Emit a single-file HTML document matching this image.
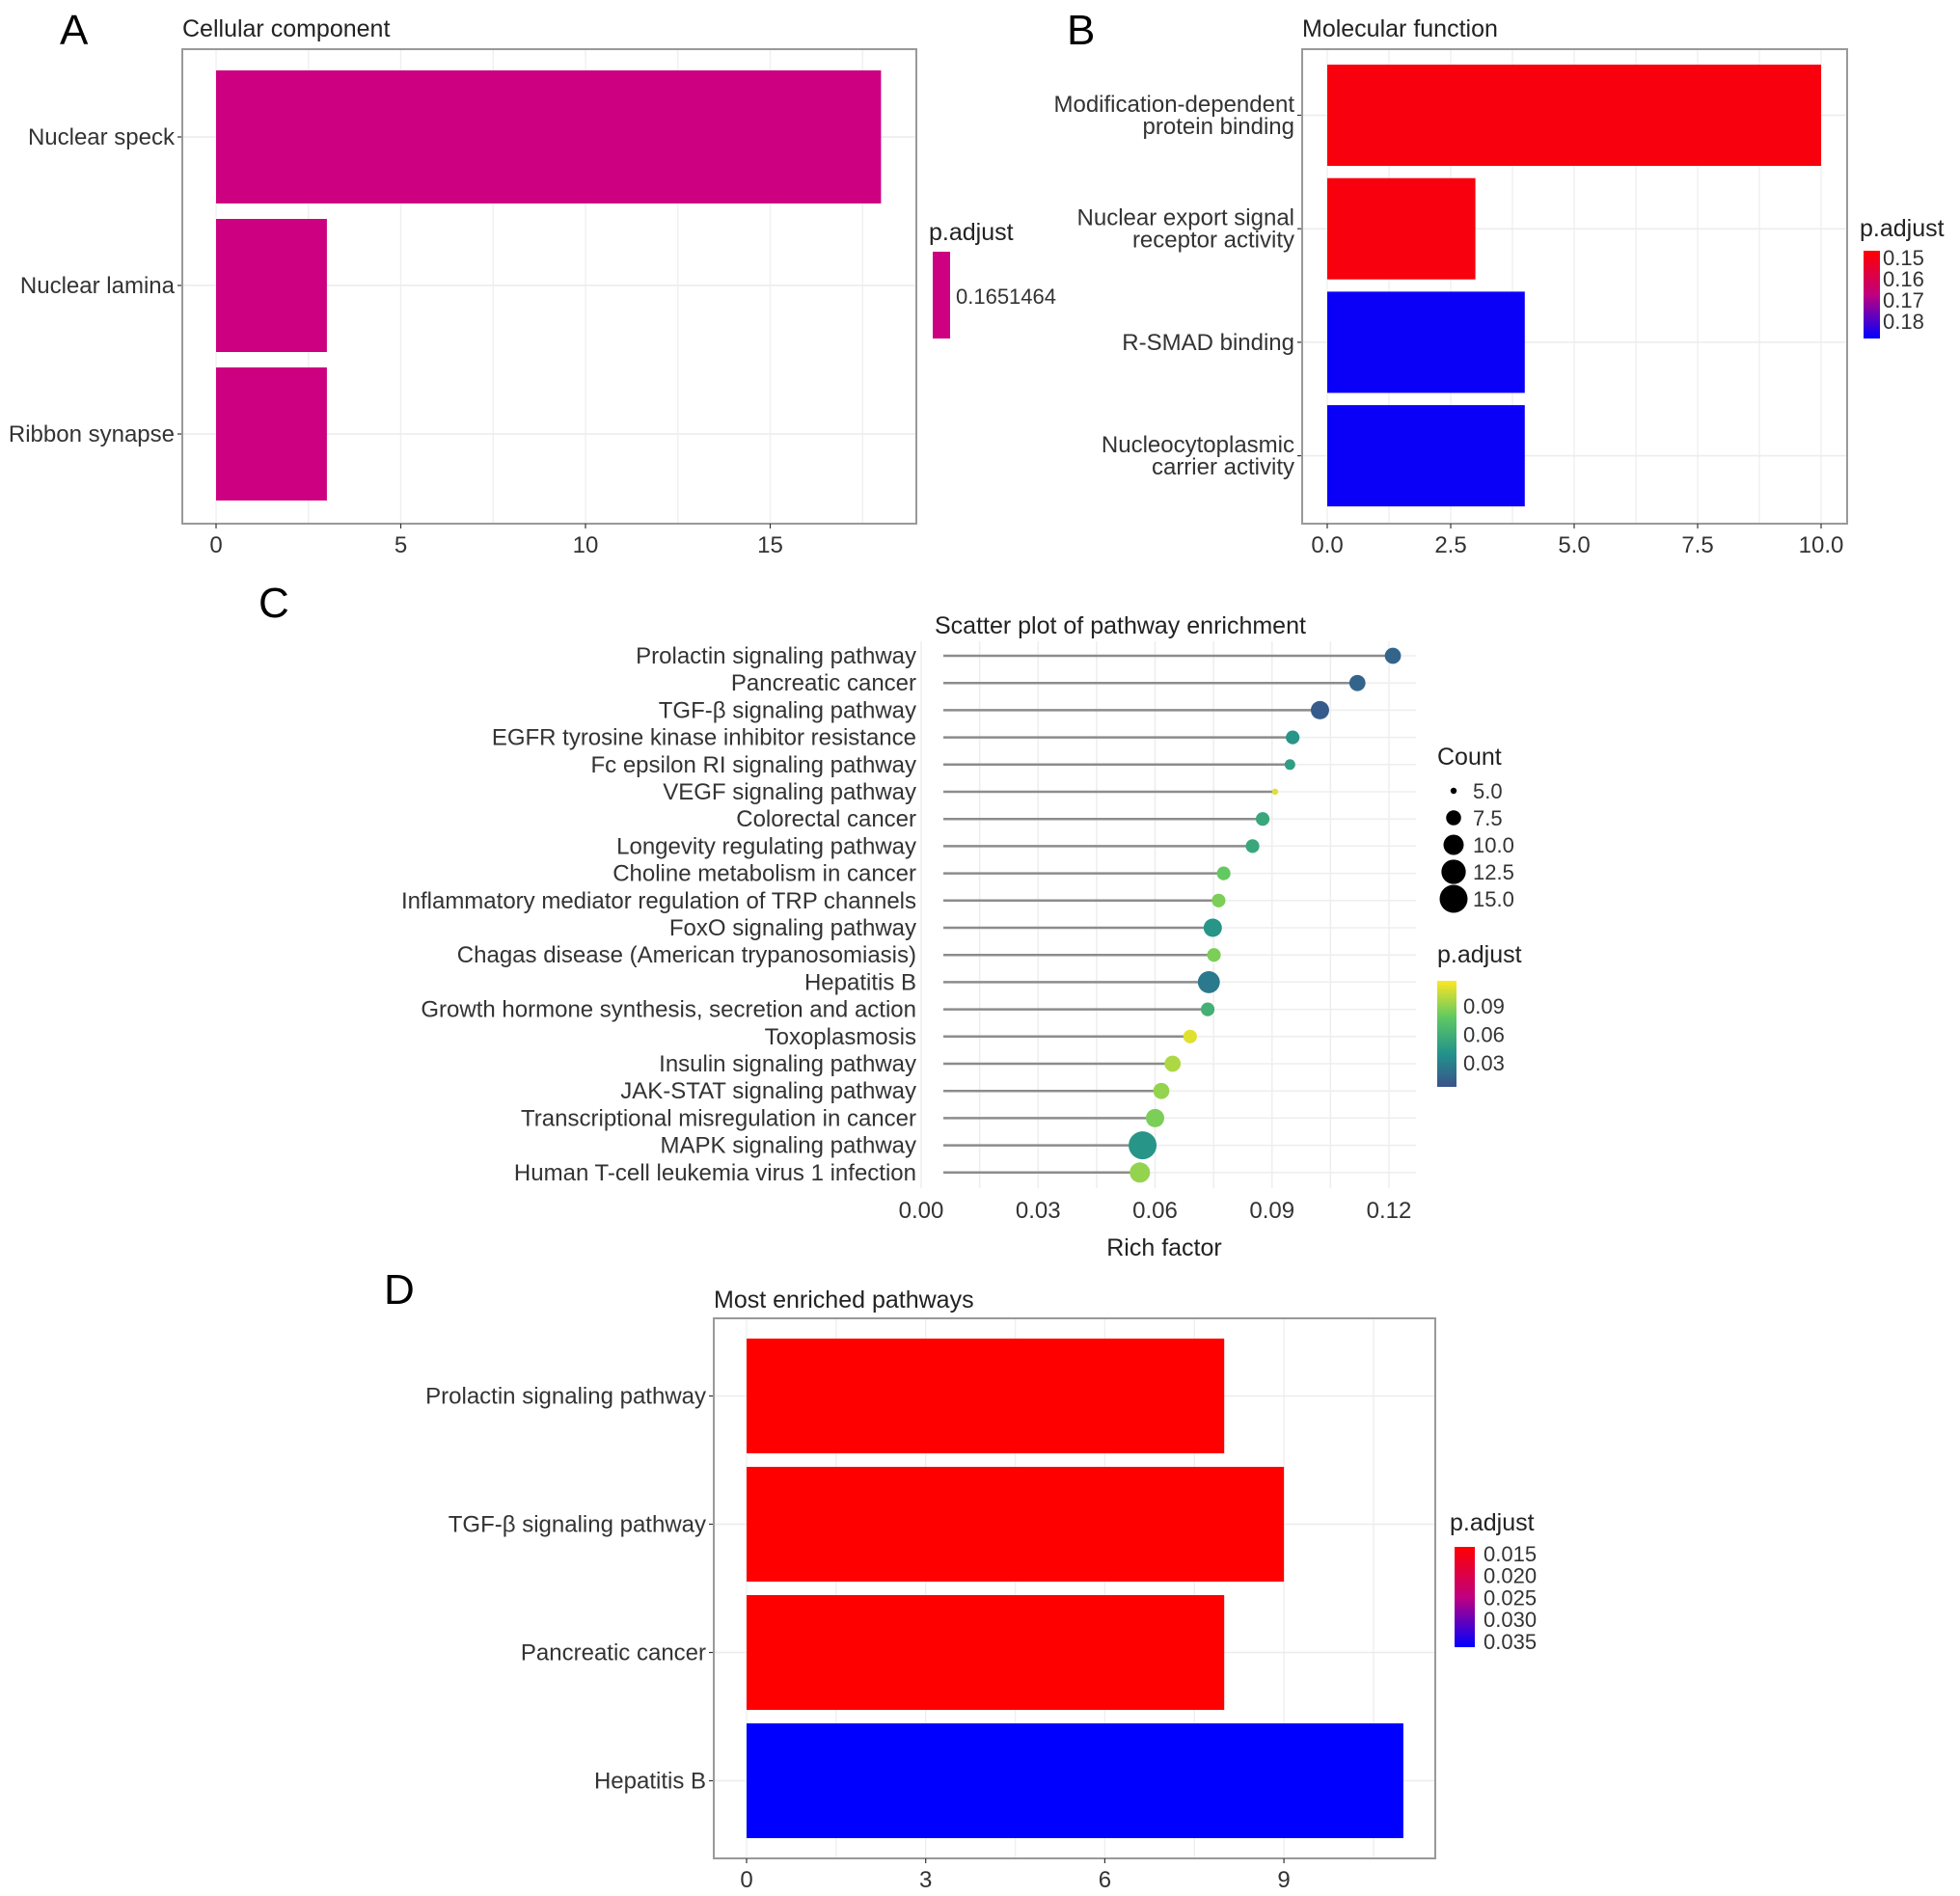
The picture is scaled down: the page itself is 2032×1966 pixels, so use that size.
<!DOCTYPE html>
<html><head><meta charset="utf-8">
<style>
html,body{margin:0;padding:0;background:#fff;}
svg{display:block;font-family:"Liberation Sans",Arial,sans-serif;}
</style></head>
<body>
<svg id="fig" width="2032" height="1966" viewBox="0 0 2032 1966" xmlns="http://www.w3.org/2000/svg">
<defs>
<linearGradient id="gradB" x1="0" y1="0" x2="0" y2="1"><stop offset="0" stop-color="#ff0000"/><stop offset="0.5" stop-color="#c0007f"/><stop offset="1" stop-color="#0000ff"/></linearGradient>
<linearGradient id="gradD" x1="0" y1="0" x2="0" y2="1"><stop offset="0" stop-color="#ff0000"/><stop offset="0.5" stop-color="#c0007f"/><stop offset="1" stop-color="#0000ff"/></linearGradient>
<linearGradient id="gradC" x1="0" y1="0" x2="0" y2="1"><stop offset="0" stop-color="#FDE725"/><stop offset="0.35" stop-color="#5DC863"/><stop offset="0.7" stop-color="#21908C"/><stop offset="1" stop-color="#3B528B"/></linearGradient>
</defs>
</svg>
<script>
// ---- Panel A data ----
const catsA = ["Nuclear speck","Nuclear lamina","Ribbon synapse"];
const valsA = [18,3,3];
const ticksA = [0,5,10,15];
// ---- Panel B data ----
const catsB = [["Modification-dependent","protein binding"],["Nuclear export signal","receptor activity"],["R-SMAD binding"],["Nucleocytoplasmic","carrier activity"]];
const valsB = [10,3,4,4];
const padjB = [0.15,0.15,0.185,0.185];
const ticksB = ["0.0","2.5","5.0","7.5","10.0"];
const legB = ["0.15","0.16","0.17","0.18"];
// ---- Panel C data ----
const catsC = ["Prolactin signaling pathway","Pancreatic cancer","TGF-β signaling pathway","EGFR tyrosine kinase inhibitor resistance","Fc epsilon RI signaling pathway","VEGF signaling pathway","Colorectal cancer","Longevity regulating pathway","Choline metabolism in cancer","Inflammatory mediator regulation of TRP channels","FoxO signaling pathway","Chagas disease (American trypanosomiasis)","Hepatitis B","Growth hormone synthesis, secretion and action","Toxoplasmosis","Insulin signaling pathway","JAK-STAT signaling pathway","Transcriptional misregulation in cancer","MAPK signaling pathway","Human T-cell leukemia virus 1 infection"];
const richC = [0.121,0.1119,0.1023,0.0953,0.0946,0.0908,0.0876,0.085,0.0776,0.0763,0.0748,0.0751,0.0738,0.0735,0.069,0.0645,0.0616,0.060,0.0568,0.0561];
const countC = [8,8,9,7,6,5,7,7,7,7,9,7,11,7,7,8,8,9,15,10];
const padjC = [0.02,0.02,0.015,0.045,0.05,0.1,0.055,0.055,0.075,0.08,0.045,0.08,0.03,0.06,0.1,0.09,0.085,0.08,0.045,0.085];
const ticksC = [0,0.03,0.06,0.09,0.12];
const countLeg = [5,7.5,10,12.5,15];
const padjLegC = [0.09,0.06,0.03];
// ---- Panel D data ----
const catsD = ["Prolactin signaling pathway","TGF-β signaling pathway","Pancreatic cancer","Hepatitis B"];
const valsD = [8,9,8,11];
const padjD = [0.013,0.013,0.013,0.036];
const ticksD = [0,3,6,9];
const legD = ["0.015","0.020","0.025","0.030","0.035"];

const svg = document.getElementById('fig');
const NS = "http://www.w3.org/2000/svg";
function mk(tag, attrs, parent){const e=document.createElementNS(NS,tag);for(const k in attrs)e.setAttribute(k,attrs[k]);(parent||svg).appendChild(e);return e;}
function txt(s,x,y,size,anchor,parent,fill){const t=mk('text',{x:x,y:y,'font-size':size,'text-anchor':anchor||'start',fill:fill||'#333'},parent);t.textContent=s;return t;}
function lerp(a,b,t){return a+(b-a)*t;}
function hex(c){return [parseInt(c.slice(1,3),16),parseInt(c.slice(3,5),16),parseInt(c.slice(5,7),16)];}
function grad(stops,t){t=Math.max(0,Math.min(1,t));const n=stops.length-1;const i=Math.min(n-1,Math.floor(t*n));const f=t*n-i;const a=hex(stops[i]),b=hex(stops[i+1]);return 'rgb('+a.map((v,k)=>Math.round(lerp(v,b[k],f))).join(',')+')';}

function barPanel(id,box,x0px,pxPerUnit,cats,vals,colorFn,ticks,tickVals,catY0,step,barH,labelLines,minorStep){
  const g=mk('g',{},svg);
  
  
  const xs=v=>x0px+v*pxPerUnit;
  mk('rect',{x:box[0],y:box[1],width:box[2]-box[0],height:box[3]-box[1],fill:'#fff'},g);
  for(let v=tickVals[0]-minorStep; xs(v)<box[2]; v+=minorStep){ if(xs(v)>box[0]) { const l=mk('line',{x1:xs(v),x2:xs(v),y1:box[1],y2:box[3],stroke:'#f0f0f0','stroke-width':1.5},g);   } }
  cats.forEach((c,i)=>{const y=catY0+i*step+barH/2;mk('line',{x1:box[0],x2:box[2],y1:y,y2:y,stroke:'#ececec','stroke-width':1.5},g);});
  cats.forEach((c,i)=>{
    const y=catY0+i*step;
    const r=mk('rect',{x:xs(0),y:y,width:xs(vals[i])-xs(0),height:barH,fill:colorFn(i)},g);
    
    
    const lines=labelLines(c);
    const cy=y+barH/2;
    lines.forEach((s,k)=>{const t=txt(s,box[0]-8,cy+8+(k-(lines.length-1)/2)*23,24,'end',g);});
    mk('line',{x1:box[0]-5,x2:box[0],y1:cy,y2:cy,stroke:'#333','stroke-width':1.2},g);
  });
  mk('rect',{x:box[0],y:box[1],width:box[2]-box[0],height:box[3]-box[1],fill:'none',stroke:'#999','stroke-width':2},g);
  tickVals.forEach((v,i)=>{mk('line',{x1:xs(v),x2:xs(v),y1:box[3],y2:box[3]+5,stroke:'#333','stroke-width':1.2},g);const t=txt(ticks[i],xs(v),box[3]+30,24,'middle',g);});
  return g;
}

// Panel A
barPanel('cellular-component',[189,51,950,543],224,38.3,catsA,valsA,()=>'#CC0080',ticksA.map(String),ticksA,73,154,138,c=>[c],2.5);
let t=txt('A',62,46,44,'start',svg,'#000');
t=txt('Cellular component',189,38,25,'start',svg,'#222');
t=txt('p.adjust',963,249,25,'start',svg,'#222');
let e=mk('rect',{x:967,y:261,width:18,height:90,fill:'#CC0080'});
t=txt('0.1651464',991,315,22,'start',svg,'#333');

// Panel B
const bStops=['#ff0000','#c0007f','#0000ff'];
barPanel('molecular-function',[1350,51,1915,543],1376,51.2,catsB,valsB,i=>grad(bStops,(padjB[i]-0.148)/(0.186-0.148)),ticksB,[0,2.5,5,7.5,10],67,117.7,105,c=>c,1.25);
t=txt('B',1106,46,44,'start',svg,'#000');
t=txt('Molecular function',1350,38,25,'start',svg,'#222');
t=txt('p.adjust',1928,245,25,'start',svg,'#222');
e=mk('rect',{x:1932,y:260,width:17,height:91,fill:'url(#gradB)'});
legB.forEach((s,i)=>{const tt=txt(s,1952,275+i*22,22,'start',svg,'#333');});

// Panel C
const gC=mk('g',{});
const cx0=955, cPer=121.25/0.03, cy0=680, cStep=28.2;
const xC=v=>cx0+v*cPer, yC=i=>cy0+i*cStep;
const rMin=3.2, rMax=14.5;
const rC=c=>Math.sqrt(rMin*rMin+(c-5)/10*(rMax*rMax-rMin*rMin));
const vStops=['#3B528B','#21908C','#5DC863','#FDE725'];
const colC=p=>grad(vStops,(p-0.01)/(0.106-0.01));
for(let v=0.0; v<=0.1201; v+=0.015){mk('line',{x1:xC(v),x2:xC(v),y1:665,y2:1232,stroke:'#eeeeee','stroke-width':1.5},gC);}
catsC.forEach((c,i)=>{mk('line',{x1:978,x2:1468,y1:yC(i),y2:yC(i),stroke:'#eeeeee','stroke-width':1.5},gC);});
catsC.forEach((c,i)=>{
  const y=yC(i);
  const s=mk('line',{x1:978,x2:xC(richC[i]),y1:y,y2:y,stroke:'#8c8c8c','stroke-width':2.5},gC);
  
  
  const d=mk('circle',{cx:xC(richC[i]),cy:y,r:rC(countC[i]),fill:colC(padjC[i])},gC);
  
  
  const lt=txt(c,950,y+8,24,'end',gC,'#333');
  
  
});
ticksC.forEach(v=>{const tt=txt(v.toFixed(2),xC(v),1263,24,'middle',gC,'#333');});
t=txt('Rich factor',1207,1302,25,'middle',gC,'#222');
t=txt('C',268,640,44,'start',svg,'#000');
t=txt('Scatter plot of pathway enrichment',969,657,25,'start',svg,'#222');
t=txt('Count',1490,793,25,'start',svg,'#222');
countLeg.forEach((c,i)=>{const y=820+i*28;const d=mk('circle',{cx:1507,cy:y,r:rC(c),fill:'#000'});const tt=txt(c.toFixed(1),1527,y+8,22,'start',svg,'#333');});
t=txt('p.adjust',1490,998,25,'start',svg,'#222');
e=mk('rect',{x:1490,y:1017,width:20,height:110,fill:'url(#gradC)'});
padjLegC.forEach(p=>{const y=1017+(0.116-p)/(0.106)*110*0.955;const tt=txt(p.toFixed(2),1517,y+8,22,'start',svg,'#333');});

// Panel D
barPanel('most-enriched',[740,1367,1488,1927],774,61.9,catsD,valsD,i=>grad(bStops,(padjD[i]-0.013)/(0.036-0.013)),ticksD.map(String),ticksD,1388,133,119,c=>[c],1.5);
t=txt('D',398,1352,44,'start',svg,'#000');
t=txt('Most enriched pathways',740,1356,25,'start',svg,'#222');
t=txt('p.adjust',1503,1587,25,'start',svg,'#222');
e=mk('rect',{x:1508,y:1604,width:21,height:104,fill:'url(#gradD)'});
legD.forEach((s,i)=>{const tt=txt(s,1538,1619+i*22.7,22,'start',svg,'#333');});
</script>
</body></html>
